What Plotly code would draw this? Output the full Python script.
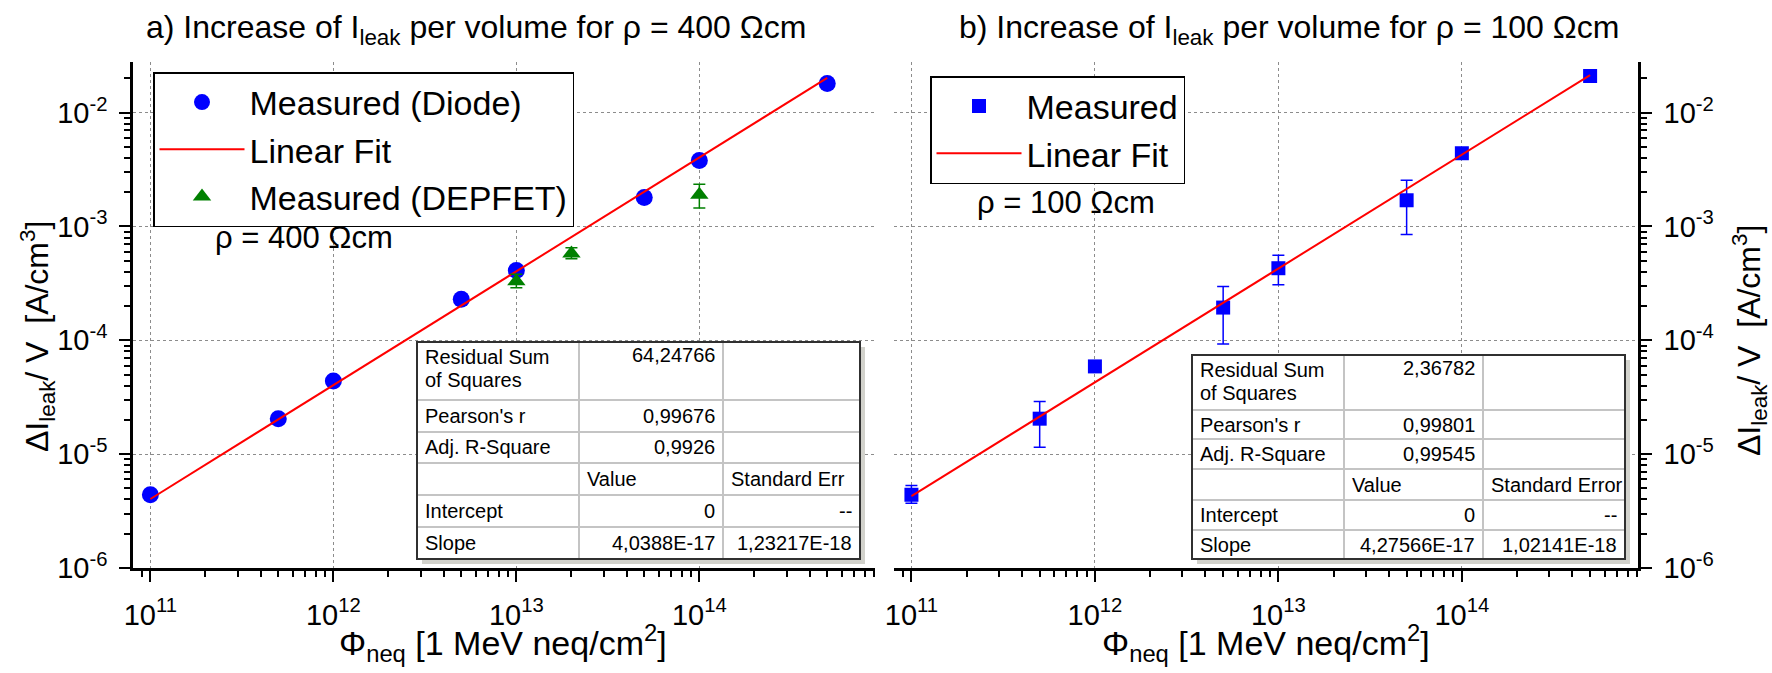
import numpy as np
import plotly.graph_objects as go

# ---------------- data ----------------
fluence = [1e11, 5e11, 1e12, 5e12, 1e13, 5e13, 1e14, 5e14]

# a) rho = 400 Ohm cm
diode_400 = [4.4e-6, 2.05e-5, 4.4e-5, 2.3e-4, 4.1e-4, 1.8e-3, 3.8e-3, 1.8e-2]
depfet_fluence = [1e13, 2e13, 1e14]
depfet_400 = [3.3e-4, 5.8e-4, 1.9e-3]
depfet_err_up = [0.5e-4, 0.7e-4, 0.45e-3]
depfet_err_down = [0.4e-4, 0.6e-4, 0.45e-3]
slope_400 = 4.0388e-17

# b) rho = 100 Ohm cm
meas_100 = [4.4e-6, 2.05e-5, 5.9e-5, 1.94e-4, 4.3e-4, 1.7e-3, 4.4e-3, 2.1e-2]
meas_100_err_up = [0.9e-6, 0.85e-5, 0.4e-5, 1.03e-4, 1.3e-4, 0.85e-3, 0.2e-3, 0.8e-3]
meas_100_err_down = [0.7e-6, 0.9e-5, 0.4e-5, 1.01e-4, 1.23e-4, 0.85e-3, 0.2e-3, 0.8e-3]
slope_100 = 4.27566e-17

fit_span = [1e11, 5e14]

x_tick_vals = [1e11, 1e12, 1e13, 1e14]
x_tick_text = ["10<sup>11</sup>", "10<sup>12</sup>", "10<sup>13</sup>", "10<sup>14</sup>"]
y_tick_vals = [1e-6, 1e-5, 1e-4, 1e-3, 1e-2]
y_tick_text = ["10<sup>-6</sup>", "10<sup>-5</sup>", "10<sup>-4</sup>", "10<sup>-3</sup>", "10<sup>-2</sup>"]

# fit statistics tables
stat_labels = ["Residual Sum|of Squares", "Pearson's r", "Adj. R-Square"]
stats_400 = ["64,24766", "0,99676", "0,9926"]
stats_100 = ["2,36782", "0,99801", "0,99545"]
param_labels = ["Intercept", "Slope"]
param_header_400 = ["Value", "Standard Err"]
param_header_100 = ["Value", "Standard Error"]
params_400 = [["0", "--"], ["4,0388E-17", "1,23217E-18"]]
params_100 = [["0", "--"], ["4,27566E-17", "1,02141E-18"]]

# ---------------- geometry helpers ----------------
W, H = 1772, 673
L, R, T, B = 133, 1638, 62, 568


def px(x):
    return (x - L) / (R - L)


def py(y):
    return (B - y) / (B - T)


FONT = "Liberation Sans, Arial, sans-serif"
BLUE = "#0000ff"
GREEN = "#008000"
RED = "#ff0000"

x_range = [10.905, 14.96]
y_range = [-6, -1.555]
minor_x = [k * 10.0 ** e for e in range(10, 15) for k in range(2, 10)]
minor_y = [k * 10.0 ** e for e in range(-7, -1) for k in range(2, 10)]

fig = go.Figure()

# ---- panel a ----
fig.add_trace(go.Scatter(
    x=fluence, y=diode_400, mode="markers", name="Measured (Diode)",
    marker=dict(symbol="circle", size=17, color=BLUE), legend="legend",
    xaxis="x", yaxis="y"))
fig.add_trace(go.Scatter(
    x=fit_span, y=[slope_400 * f for f in fit_span], mode="lines", name="Linear Fit",
    line=dict(color=RED, width=2), legend="legend", xaxis="x", yaxis="y"))
fig.add_trace(go.Scatter(
    x=depfet_fluence, y=depfet_400, mode="markers", name="Measured (DEPFET)",
    marker=dict(symbol="triangle-up", size=16, color=GREEN),
    error_y=dict(type="data", symmetric=False, array=depfet_err_up,
                 arrayminus=depfet_err_down, color=GREEN, thickness=1.5, width=6),
    legend="legend", xaxis="x", yaxis="y"))

# ---- panel b ----
fig.add_trace(go.Scatter(
    x=fluence, y=meas_100, mode="markers", name="Measured",
    marker=dict(symbol="square", size=14, color=BLUE),
    error_y=dict(type="data", symmetric=False, array=meas_100_err_up,
                 arrayminus=meas_100_err_down, color=BLUE, thickness=1.5, width=6),
    legend="legend2", xaxis="x2", yaxis="y2"))
fig.add_trace(go.Scatter(
    x=fit_span, y=[slope_100 * f for f in fit_span], mode="lines", name="Linear Fit",
    line=dict(color=RED, width=2), legend="legend2", xaxis="x2", yaxis="y2"))


def axis(rng, tvals, ttext, minor_vals, ticks="outside", labels=True, grid=True, **kw):
    d = dict(
        type="log", range=rng, showline=True, linecolor="black", linewidth=2.5,
        ticks=ticks, ticklen=11, tickwidth=2, tickcolor="black",
        tickmode="array", tickvals=tvals, ticktext=ttext,
        showticklabels=labels, tickfont=dict(family=FONT, size=29, color="black"),
        showgrid=grid, gridcolor="#8c8c8c", griddash="dot", gridwidth=1,
        zeroline=False, fixedrange=True,
        minor=dict(tickmode="array", tickvals=minor_vals, ticks=ticks, ticklen=6,
                   tickwidth=1.5, tickcolor="black", showgrid=False),
    )
    d.update(kw)
    return d


dom1 = [0, px(875)]
dom2 = [px(894), 1]

fig.update_layout(
    xaxis=axis(x_range, x_tick_vals, x_tick_text, minor_x, domain=dom1, anchor="y",
               ticklabelstandoff=8),
    yaxis=axis(y_range, y_tick_vals, y_tick_text, minor_y, domain=[0, 1], anchor="x",
               side="left", ticklabelstandoff=6),
    xaxis2=axis(x_range, x_tick_vals, x_tick_text, minor_x, domain=dom2, anchor="y2",
                ticklabelstandoff=8),
    yaxis2=axis(y_range, y_tick_vals, y_tick_text, minor_y, domain=[0, 1], anchor="x2",
                side="right", ticklabelstandoff=6),
    # mirrored frame sides with inward ticks
    xaxis3=axis(x_range, x_tick_vals, x_tick_text, minor_x, ticks="inside", labels=False,
                grid=False, overlaying="x", anchor="y", side="top"),
    yaxis3=axis(y_range, y_tick_vals, y_tick_text, minor_y, ticks="inside", labels=False,
                grid=False, overlaying="y", anchor="x", side="right"),
    xaxis4=axis(x_range, x_tick_vals, x_tick_text, minor_x, ticks="inside", labels=False,
                grid=False, overlaying="x2", anchor="y2", side="top"),
    yaxis4=axis(y_range, y_tick_vals, y_tick_text, minor_y, ticks="inside", labels=False,
                grid=False, overlaying="y2", anchor="x2", side="left"),
)

legend_common = dict(
    xanchor="left", yanchor="top", bgcolor="white", bordercolor="black", borderwidth=1.5,
    font=dict(family=FONT, size=34, color="black"), itemwidth=85, tracegroupgap=0,
)
fig.update_layout(
    legend=dict(x=px(153), y=py(72), **legend_common),
    legend2=dict(x=px(930), y=py(76), **legend_common),
)

annotations = []
shapes = []


def text(x, y, s, size, xanchor="center", yanchor="middle", angle=0):
    annotations.append(dict(
        x=px(x), y=py(y), xref="paper", yref="paper", text=s, showarrow=False,
        xanchor=xanchor, yanchor=yanchor, textangle=angle,
        font=dict(family=FONT, size=size, color="black")))


# titles
text(476, 30, "a) Increase of I<sub>leak</sub> per volume for \u03c1 = 400 \u03a9cm", 32)
text(1289, 30, "b) Increase of I<sub>leak</sub> per volume for \u03c1 = 100 \u03a9cm", 32)

# axis titles
xt = "\u03a6<sub>neq</sub> [1 MeV neq/cm<sup>2</sup>]"
text(503, 643, xt, 34)
text(1266, 643, xt, 34)
yt = "\u0394I<sub>leak</sub>/ V  [A/cm<sup>3</sup>]"
text(37, 337, yt, 32, angle=-90)
text(1750, 341, yt, 32, angle=-90)

# resistivity labels
text(213, 237, "\u03c1 = 400 \u03a9cm", 31, xanchor="left")
text(975, 203, "\u03c1 = 100 \u03a9cm", 31, xanchor="left")


def fit_table(cols, rows, stats, header, params):
    x0, x1 = cols[0], cols[-1]
    y0, y1 = rows[0], rows[-1]
    shapes.append(dict(type="rect", xref="paper", yref="paper", layer="above",
                       x0=px(x0 + 5), x1=px(x1 + 5), y0=py(y0 + 5), y1=py(y1 + 5),
                       fillcolor="#d2d2cc", line=dict(width=0)))
    shapes.append(dict(type="rect", xref="paper", yref="paper", layer="above",
                       x0=px(x0), x1=px(x1), y0=py(y0), y1=py(y1),
                       fillcolor="white", line=dict(width=0)))
    for c in cols[1:-1]:
        shapes.append(dict(type="line", xref="paper", yref="paper", layer="above",
                           x0=px(c), x1=px(c), y0=py(y0), y1=py(y1),
                           line=dict(color="#c4c4c4", width=2)))
    for r in rows[1:-1]:
        shapes.append(dict(type="line", xref="paper", yref="paper", layer="above",
                           x0=px(x0), x1=px(x1), y0=py(r), y1=py(r),
                           line=dict(color="#c4c4c4", width=2)))
    shapes.append(dict(type="rect", xref="paper", yref="paper", layer="above",
                       x0=px(x0), x1=px(x1), y0=py(y0), y1=py(y1),
                       line=dict(color="#303030", width=2)))
    fs = 20
    pad = 6
    # first row: two-line label
    first, second = stat_labels[0].split("|")
    text(cols[0] + pad, rows[0] + 15, first, fs, xanchor="left")
    text(cols[0] + pad, rows[0] + 38, second, fs, xanchor="left")
    text(cols[2] - pad, rows[0] + 13, stats[0], fs, xanchor="right")
    for i in (1, 2):
        ym = (rows[i] + rows[i + 1]) / 2
        text(cols[0] + pad, ym, stat_labels[i], fs, xanchor="left")
        text(cols[2] - pad, ym, stats[i], fs, xanchor="right")
    ym = (rows[3] + rows[4]) / 2
    text(cols[1] + pad, ym, header[0], fs, xanchor="left")
    text(cols[2] + pad, ym, header[1], fs, xanchor="left")
    for j in range(2):
        ym = (rows[4 + j] + rows[5 + j]) / 2
        text(cols[0] + pad, ym, param_labels[j], fs, xanchor="left")
        text(cols[2] - pad, ym, params[j][0], fs, xanchor="right")
        text(cols[3] - pad, ym, params[j][1], fs, xanchor="right")


fit_table([417, 579, 723, 860], [342, 400, 432, 463, 495, 527, 559],
          stats_400, param_header_400, params_400)
fit_table([1192, 1344, 1483, 1625], [355, 410, 439, 469, 500, 530, 559],
          stats_100, param_header_100, params_100)

fig.update_layout(
    width=W, height=H, autosize=False,
    margin=dict(l=L, r=W - R, t=T, b=H - B, pad=0),
    paper_bgcolor="white", plot_bgcolor="white",
    font=dict(family=FONT, color="black"),
    annotations=annotations, shapes=shapes, showlegend=True,
)

fig.write_html("out.html")
